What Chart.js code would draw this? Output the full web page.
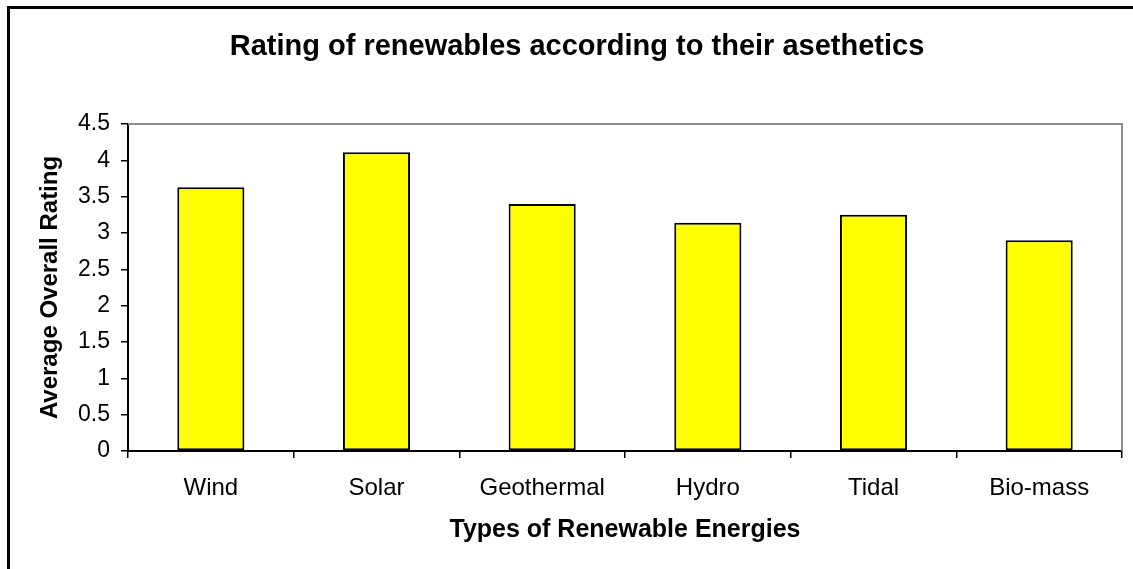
<!DOCTYPE html>
<html>
<head>
<meta charset="utf-8">
<script src="https://cdn.jsdelivr.net/npm/chart.js@4.4.1/dist/chart.umd.min.js"></script>
<style>
  html, body { margin:0; padding:0; background:#fff; overflow:hidden; }
  #wrap { width:1133px; height:569px; position:relative; }
</style>
</head>
<body>
<div id="wrap"><canvas id="ratingChart"></canvas></div>
<script>
const categories = ["Wind", "Solar", "Geothermal", "Hydro", "Tidal", "Bio-mass"];
const ratings = [3.63, 4.11, 3.40, 3.14, 3.25, 2.90];
const yTicks = [0, 0.5, 1, 1.5, 2, 2.5, 3, 3.5, 4, 4.5];

const FONT = "'Liberation Sans', Arial, sans-serif";

// outer frame + main title + grey plot-area edge (Excel look)
const decorPlugin = {
  id:"decor",
  beforeDraw(chart){
    const ctx = chart.ctx;
    ctx.save();
    ctx.strokeStyle = "#000";
    ctx.lineWidth = 3;
    ctx.strokeRect(8.5, 7.5, 1200, 600);
    ctx.restore();
  },
  afterDraw(chart){
    const ctx = chart.ctx, a = chart.chartArea;
    ctx.save();
    ctx.strokeStyle = "#8c8c8c";
    ctx.lineWidth = 2;
    ctx.beginPath();
    ctx.moveTo(a.left, a.top);
    ctx.lineTo(a.right, a.top);
    ctx.lineTo(a.right, a.bottom);
    ctx.stroke();

    ctx.fillStyle = "#000";
    ctx.font = "bold 29px " + FONT;
    ctx.textAlign = "center";
    ctx.textBaseline = "middle";
    ctx.fillText("Rating of renewables according to their asethetics", 577, 47);
    ctx.restore();
  }
};

const ctx = document.getElementById("ratingChart").getContext("2d");
new Chart(ctx, {
  type:"bar",
  data:{
    labels: categories,
    datasets:[{
      data: ratings,
      backgroundColor:"#ffff00",
      borderColor:"#000",
      borderWidth:2,
      borderSkipped:false,
      categoryPercentage:1,
      barPercentage:0.405
    }]
  },
  options:{
    responsive:true,
    maintainAspectRatio:false,
    animation:false,
    layout:{ padding:{ left:0, top:124, right:11, bottom:0 } },
    plugins:{ legend:{ display:false }, tooltip:{ enabled:false }, title:{ display:false } },
    scales:{
      x:{
        grid:{ display:true, drawOnChartArea:false, offset:true, tickLength:7, color:"#000", lineWidth:1.5 },
        border:{ display:true, color:"#000", width:2 },
        ticks:{ color:"#000", font:{ family:FONT, size:24 }, padding:16, maxRotation:0 },
        title:{ display:true, text:"Types of Renewable Energies", color:"#000",
                font:{ family:FONT, size:25, weight:"bold" }, padding:{ top:0, bottom:24 } },
        afterFit(scale){ scale.height = 118; }
      },
      y:{
        min:0, max:4.5,
        afterBuildTicks(scale){ scale.ticks = yTicks.map(v => ({ value:v })); },
        grid:{ display:true, drawOnChartArea:false, tickLength:7, color:"#000", lineWidth:1.5 },
        border:{ display:true, color:"#000", width:2 },
        ticks:{ color:"#000", font:{ family:FONT, size:23 }, padding:11, callback:v => String(v) },
        title:{ display:true, text:"Average Overall Rating", color:"#000",
                font:{ family:FONT, size:24, weight:"bold" }, padding:{ top:36, bottom:0 } },
        afterFit(scale){ scale.width = 128; }
      }
    }
  },
  plugins:[decorPlugin]
});
</script>
</body>
</html>
